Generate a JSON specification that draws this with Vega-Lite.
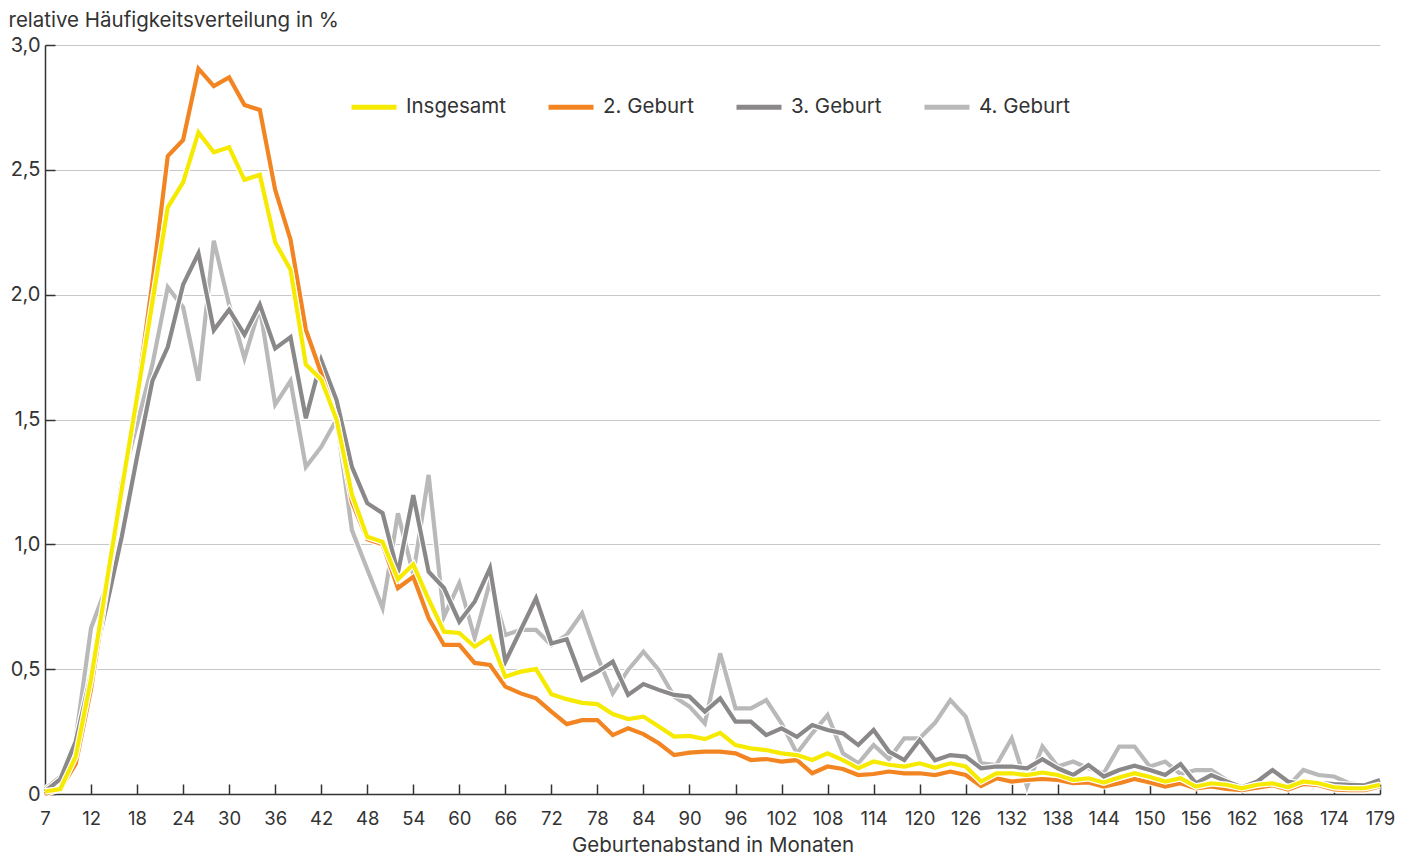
{
  "$schema": "https://vega.github.io/schema/vega-lite/v6.json",
  "autosize": "none",
  "width": 1335,
  "height": 749,
  "padding": {"left": 45, "top": 45, "right": 33, "bottom": 63},
  "background": "white",
  "config": {
    "view": {"stroke": null},
    "font": "Inter",
    "axis": {"labelColor": "#333333", "titleColor": "#333333", "labelFont": "Inter", "titleFont": "Inter"},
    "legend": {"labelFont": "Inter"}
  },
  "data": {"values": [
    {"m":6,"s":"Insgesamt","v":0.01},{"m":8,"s":"Insgesamt","v":0.02},{"m":10,"s":"Insgesamt","v":0.15},{"m":12,"s":"Insgesamt","v":0.46},{"m":14,"s":"Insgesamt","v":0.84},{"m":16,"s":"Insgesamt","v":1.22},{"m":18,"s":"Insgesamt","v":1.59},{"m":20,"s":"Insgesamt","v":1.97},{"m":22,"s":"Insgesamt","v":2.35},{"m":24,"s":"Insgesamt","v":2.45},{"m":26,"s":"Insgesamt","v":2.65},{"m":28,"s":"Insgesamt","v":2.57},{"m":30,"s":"Insgesamt","v":2.59},{"m":32,"s":"Insgesamt","v":2.46},{"m":34,"s":"Insgesamt","v":2.48},{"m":36,"s":"Insgesamt","v":2.21},{"m":38,"s":"Insgesamt","v":2.10},{"m":40,"s":"Insgesamt","v":1.72},{"m":42,"s":"Insgesamt","v":1.66},{"m":44,"s":"Insgesamt","v":1.50},{"m":46,"s":"Insgesamt","v":1.20},{"m":48,"s":"Insgesamt","v":1.03},{"m":50,"s":"Insgesamt","v":1.01},{"m":52,"s":"Insgesamt","v":0.86},{"m":54,"s":"Insgesamt","v":0.92},{"m":56,"s":"Insgesamt","v":0.78},{"m":58,"s":"Insgesamt","v":0.65},{"m":60,"s":"Insgesamt","v":0.645},{"m":62,"s":"Insgesamt","v":0.59},{"m":64,"s":"Insgesamt","v":0.63},{"m":66,"s":"Insgesamt","v":0.47},{"m":68,"s":"Insgesamt","v":0.49},{"m":70,"s":"Insgesamt","v":0.50},{"m":72,"s":"Insgesamt","v":0.40},{"m":74,"s":"Insgesamt","v":0.38},{"m":76,"s":"Insgesamt","v":0.365},{"m":78,"s":"Insgesamt","v":0.36},{"m":80,"s":"Insgesamt","v":0.32},{"m":82,"s":"Insgesamt","v":0.30},{"m":84,"s":"Insgesamt","v":0.31},{"m":86,"s":"Insgesamt","v":0.27},{"m":88,"s":"Insgesamt","v":0.23},{"m":90,"s":"Insgesamt","v":0.233},{"m":92,"s":"Insgesamt","v":0.22},{"m":94,"s":"Insgesamt","v":0.245},{"m":96,"s":"Insgesamt","v":0.196},{"m":98,"s":"Insgesamt","v":0.183},{"m":100,"s":"Insgesamt","v":0.176},{"m":102,"s":"Insgesamt","v":0.163},{"m":104,"s":"Insgesamt","v":0.156},{"m":106,"s":"Insgesamt","v":0.136},{"m":108,"s":"Insgesamt","v":0.163},{"m":110,"s":"Insgesamt","v":0.136},{"m":112,"s":"Insgesamt","v":0.103},{"m":114,"s":"Insgesamt","v":0.13},{"m":116,"s":"Insgesamt","v":0.117},{"m":118,"s":"Insgesamt","v":0.11},{"m":120,"s":"Insgesamt","v":0.123},{"m":122,"s":"Insgesamt","v":0.105},{"m":124,"s":"Insgesamt","v":0.123},{"m":126,"s":"Insgesamt","v":0.11},{"m":128,"s":"Insgesamt","v":0.05},{"m":130,"s":"Insgesamt","v":0.083},{"m":132,"s":"Insgesamt","v":0.083},{"m":134,"s":"Insgesamt","v":0.076},{"m":136,"s":"Insgesamt","v":0.086},{"m":138,"s":"Insgesamt","v":0.076},{"m":140,"s":"Insgesamt","v":0.056},{"m":142,"s":"Insgesamt","v":0.063},{"m":144,"s":"Insgesamt","v":0.046},{"m":146,"s":"Insgesamt","v":0.066},{"m":148,"s":"Insgesamt","v":0.083},{"m":150,"s":"Insgesamt","v":0.068},{"m":152,"s":"Insgesamt","v":0.05},{"m":154,"s":"Insgesamt","v":0.063},{"m":156,"s":"Insgesamt","v":0.03},{"m":158,"s":"Insgesamt","v":0.043},{"m":160,"s":"Insgesamt","v":0.037},{"m":162,"s":"Insgesamt","v":0.023},{"m":164,"s":"Insgesamt","v":0.037},{"m":166,"s":"Insgesamt","v":0.043},{"m":168,"s":"Insgesamt","v":0.027},{"m":170,"s":"Insgesamt","v":0.05},{"m":172,"s":"Insgesamt","v":0.043},{"m":174,"s":"Insgesamt","v":0.027},{"m":176,"s":"Insgesamt","v":0.023},{"m":178,"s":"Insgesamt","v":0.023},{"m":180,"s":"Insgesamt","v":0.037},

    {"m":6,"s":"2. Geburt","v":0.0},{"m":8,"s":"2. Geburt","v":0.02},{"m":10,"s":"2. Geburt","v":0.12},{"m":12,"s":"2. Geburt","v":0.42},{"m":14,"s":"2. Geburt","v":0.82},{"m":16,"s":"2. Geburt","v":1.2},{"m":18,"s":"2. Geburt","v":1.6},{"m":20,"s":"2. Geburt","v":2.05},{"m":22,"s":"2. Geburt","v":2.555},{"m":24,"s":"2. Geburt","v":2.62},{"m":26,"s":"2. Geburt","v":2.905},{"m":28,"s":"2. Geburt","v":2.835},{"m":30,"s":"2. Geburt","v":2.87},{"m":32,"s":"2. Geburt","v":2.76},{"m":34,"s":"2. Geburt","v":2.74},{"m":36,"s":"2. Geburt","v":2.42},{"m":38,"s":"2. Geburt","v":2.22},{"m":40,"s":"2. Geburt","v":1.86},{"m":42,"s":"2. Geburt","v":1.685},{"m":44,"s":"2. Geburt","v":1.5},{"m":46,"s":"2. Geburt","v":1.17},{"m":48,"s":"2. Geburt","v":1.02},{"m":50,"s":"2. Geburt","v":1.0},{"m":52,"s":"2. Geburt","v":0.825},{"m":54,"s":"2. Geburt","v":0.87},{"m":56,"s":"2. Geburt","v":0.705},{"m":58,"s":"2. Geburt","v":0.597},{"m":60,"s":"2. Geburt","v":0.597},{"m":62,"s":"2. Geburt","v":0.525},{"m":64,"s":"2. Geburt","v":0.517},{"m":66,"s":"2. Geburt","v":0.43},{"m":68,"s":"2. Geburt","v":0.403},{"m":70,"s":"2. Geburt","v":0.383},{"m":72,"s":"2. Geburt","v":0.33},{"m":74,"s":"2. Geburt","v":0.28},{"m":76,"s":"2. Geburt","v":0.296},{"m":78,"s":"2. Geburt","v":0.296},{"m":80,"s":"2. Geburt","v":0.236},{"m":82,"s":"2. Geburt","v":0.263},{"m":84,"s":"2. Geburt","v":0.24},{"m":86,"s":"2. Geburt","v":0.203},{"m":88,"s":"2. Geburt","v":0.156},{"m":90,"s":"2. Geburt","v":0.166},{"m":92,"s":"2. Geburt","v":0.17},{"m":94,"s":"2. Geburt","v":0.17},{"m":96,"s":"2. Geburt","v":0.163},{"m":98,"s":"2. Geburt","v":0.136},{"m":100,"s":"2. Geburt","v":0.14},{"m":102,"s":"2. Geburt","v":0.13},{"m":104,"s":"2. Geburt","v":0.136},{"m":106,"s":"2. Geburt","v":0.083},{"m":108,"s":"2. Geburt","v":0.11},{"m":110,"s":"2. Geburt","v":0.1},{"m":112,"s":"2. Geburt","v":0.076},{"m":114,"s":"2. Geburt","v":0.08},{"m":116,"s":"2. Geburt","v":0.09},{"m":118,"s":"2. Geburt","v":0.083},{"m":120,"s":"2. Geburt","v":0.083},{"m":122,"s":"2. Geburt","v":0.076},{"m":124,"s":"2. Geburt","v":0.09},{"m":126,"s":"2. Geburt","v":0.076},{"m":128,"s":"2. Geburt","v":0.032},{"m":130,"s":"2. Geburt","v":0.063},{"m":132,"s":"2. Geburt","v":0.05},{"m":134,"s":"2. Geburt","v":0.056},{"m":136,"s":"2. Geburt","v":0.06},{"m":138,"s":"2. Geburt","v":0.056},{"m":140,"s":"2. Geburt","v":0.043},{"m":142,"s":"2. Geburt","v":0.046},{"m":144,"s":"2. Geburt","v":0.03},{"m":146,"s":"2. Geburt","v":0.043},{"m":148,"s":"2. Geburt","v":0.06},{"m":150,"s":"2. Geburt","v":0.046},{"m":152,"s":"2. Geburt","v":0.03},{"m":154,"s":"2. Geburt","v":0.043},{"m":156,"s":"2. Geburt","v":0.023},{"m":158,"s":"2. Geburt","v":0.03},{"m":160,"s":"2. Geburt","v":0.02},{"m":162,"s":"2. Geburt","v":0.015},{"m":164,"s":"2. Geburt","v":0.025},{"m":166,"s":"2. Geburt","v":0.035},{"m":168,"s":"2. Geburt","v":0.018},{"m":170,"s":"2. Geburt","v":0.04},{"m":172,"s":"2. Geburt","v":0.035},{"m":174,"s":"2. Geburt","v":0.018},{"m":176,"s":"2. Geburt","v":0.015},{"m":178,"s":"2. Geburt","v":0.015},{"m":180,"s":"2. Geburt","v":0.03},

    {"m":6,"s":"3. Geburt","v":0.01},{"m":8,"s":"3. Geburt","v":0.06},{"m":10,"s":"3. Geburt","v":0.21},{"m":12,"s":"3. Geburt","v":0.48},{"m":14,"s":"3. Geburt","v":0.75},{"m":16,"s":"3. Geburt","v":1.03},{"m":18,"s":"3. Geburt","v":1.35},{"m":20,"s":"3. Geburt","v":1.655},{"m":22,"s":"3. Geburt","v":1.79},{"m":24,"s":"3. Geburt","v":2.04},{"m":26,"s":"3. Geburt","v":2.166},{"m":28,"s":"3. Geburt","v":1.858},{"m":30,"s":"3. Geburt","v":1.94},{"m":32,"s":"3. Geburt","v":1.84},{"m":34,"s":"3. Geburt","v":1.96},{"m":36,"s":"3. Geburt","v":1.785},{"m":38,"s":"3. Geburt","v":1.83},{"m":40,"s":"3. Geburt","v":1.505},{"m":42,"s":"3. Geburt","v":1.738},{"m":44,"s":"3. Geburt","v":1.578},{"m":46,"s":"3. Geburt","v":1.31},{"m":48,"s":"3. Geburt","v":1.165},{"m":50,"s":"3. Geburt","v":1.125},{"m":52,"s":"3. Geburt","v":0.885},{"m":54,"s":"3. Geburt","v":1.197},{"m":56,"s":"3. Geburt","v":0.89},{"m":58,"s":"3. Geburt","v":0.825},{"m":60,"s":"3. Geburt","v":0.69},{"m":62,"s":"3. Geburt","v":0.77},{"m":64,"s":"3. Geburt","v":0.905},{"m":66,"s":"3. Geburt","v":0.53},{"m":68,"s":"3. Geburt","v":0.657},{"m":70,"s":"3. Geburt","v":0.784},{"m":72,"s":"3. Geburt","v":0.603},{"m":74,"s":"3. Geburt","v":0.62},{"m":76,"s":"3. Geburt","v":0.457},{"m":78,"s":"3. Geburt","v":0.49},{"m":80,"s":"3. Geburt","v":0.53},{"m":82,"s":"3. Geburt","v":0.397},{"m":84,"s":"3. Geburt","v":0.44},{"m":86,"s":"3. Geburt","v":0.417},{"m":88,"s":"3. Geburt","v":0.397},{"m":90,"s":"3. Geburt","v":0.39},{"m":92,"s":"3. Geburt","v":0.33},{"m":94,"s":"3. Geburt","v":0.383},{"m":96,"s":"3. Geburt","v":0.29},{"m":98,"s":"3. Geburt","v":0.29},{"m":100,"s":"3. Geburt","v":0.236},{"m":102,"s":"3. Geburt","v":0.263},{"m":104,"s":"3. Geburt","v":0.229},{"m":106,"s":"3. Geburt","v":0.276},{"m":108,"s":"3. Geburt","v":0.256},{"m":110,"s":"3. Geburt","v":0.243},{"m":112,"s":"3. Geburt","v":0.196},{"m":114,"s":"3. Geburt","v":0.256},{"m":116,"s":"3. Geburt","v":0.17},{"m":118,"s":"3. Geburt","v":0.136},{"m":120,"s":"3. Geburt","v":0.216},{"m":122,"s":"3. Geburt","v":0.135},{"m":124,"s":"3. Geburt","v":0.156},{"m":126,"s":"3. Geburt","v":0.15},{"m":128,"s":"3. Geburt","v":0.103},{"m":130,"s":"3. Geburt","v":0.11},{"m":132,"s":"3. Geburt","v":0.11},{"m":134,"s":"3. Geburt","v":0.103},{"m":136,"s":"3. Geburt","v":0.139},{"m":138,"s":"3. Geburt","v":0.103},{"m":140,"s":"3. Geburt","v":0.076},{"m":142,"s":"3. Geburt","v":0.116},{"m":144,"s":"3. Geburt","v":0.07},{"m":146,"s":"3. Geburt","v":0.096},{"m":148,"s":"3. Geburt","v":0.113},{"m":150,"s":"3. Geburt","v":0.096},{"m":152,"s":"3. Geburt","v":0.076},{"m":154,"s":"3. Geburt","v":0.12},{"m":156,"s":"3. Geburt","v":0.043},{"m":158,"s":"3. Geburt","v":0.076},{"m":160,"s":"3. Geburt","v":0.05},{"m":162,"s":"3. Geburt","v":0.027},{"m":164,"s":"3. Geburt","v":0.05},{"m":166,"s":"3. Geburt","v":0.096},{"m":168,"s":"3. Geburt","v":0.05},{"m":170,"s":"3. Geburt","v":0.04},{"m":172,"s":"3. Geburt","v":0.045},{"m":174,"s":"3. Geburt","v":0.04},{"m":176,"s":"3. Geburt","v":0.037},{"m":178,"s":"3. Geburt","v":0.035},{"m":180,"s":"3. Geburt","v":0.056},

    {"m":6,"s":"4. Geburt","v":0.02},{"m":8,"s":"4. Geburt","v":0.07},{"m":10,"s":"4. Geburt","v":0.22},{"m":12,"s":"4. Geburt","v":0.665},{"m":14,"s":"4. Geburt","v":0.83},{"m":16,"s":"4. Geburt","v":1.25},{"m":18,"s":"4. Geburt","v":1.48},{"m":20,"s":"4. Geburt","v":1.72},{"m":22,"s":"4. Geburt","v":2.03},{"m":24,"s":"4. Geburt","v":1.95},{"m":26,"s":"4. Geburt","v":1.655},{"m":28,"s":"4. Geburt","v":2.216},{"m":30,"s":"4. Geburt","v":1.96},{"m":32,"s":"4. Geburt","v":1.745},{"m":34,"s":"4. Geburt","v":1.95},{"m":36,"s":"4. Geburt","v":1.56},{"m":38,"s":"4. Geburt","v":1.655},{"m":40,"s":"4. Geburt","v":1.31},{"m":42,"s":"4. Geburt","v":1.39},{"m":44,"s":"4. Geburt","v":1.5},{"m":46,"s":"4. Geburt","v":1.057},{"m":48,"s":"4. Geburt","v":0.9},{"m":50,"s":"4. Geburt","v":0.745},{"m":52,"s":"4. Geburt","v":1.124},{"m":54,"s":"4. Geburt","v":0.88},{"m":56,"s":"4. Geburt","v":1.278},{"m":58,"s":"4. Geburt","v":0.71},{"m":60,"s":"4. Geburt","v":0.845},{"m":62,"s":"4. Geburt","v":0.625},{"m":64,"s":"4. Geburt","v":0.85},{"m":66,"s":"4. Geburt","v":0.637},{"m":68,"s":"4. Geburt","v":0.657},{"m":70,"s":"4. Geburt","v":0.657},{"m":72,"s":"4. Geburt","v":0.597},{"m":74,"s":"4. Geburt","v":0.637},{"m":76,"s":"4. Geburt","v":0.724},{"m":78,"s":"4. Geburt","v":0.55},{"m":80,"s":"4. Geburt","v":0.403},{"m":82,"s":"4. Geburt","v":0.497},{"m":84,"s":"4. Geburt","v":0.57},{"m":86,"s":"4. Geburt","v":0.497},{"m":88,"s":"4. Geburt","v":0.39},{"m":90,"s":"4. Geburt","v":0.35},{"m":92,"s":"4. Geburt","v":0.283},{"m":94,"s":"4. Geburt","v":0.563},{"m":96,"s":"4. Geburt","v":0.343},{"m":98,"s":"4. Geburt","v":0.343},{"m":100,"s":"4. Geburt","v":0.376},{"m":102,"s":"4. Geburt","v":0.283},{"m":104,"s":"4. Geburt","v":0.163},{"m":106,"s":"4. Geburt","v":0.243},{"m":108,"s":"4. Geburt","v":0.316},{"m":110,"s":"4. Geburt","v":0.163},{"m":112,"s":"4. Geburt","v":0.123},{"m":114,"s":"4. Geburt","v":0.196},{"m":116,"s":"4. Geburt","v":0.14},{"m":118,"s":"4. Geburt","v":0.223},{"m":120,"s":"4. Geburt","v":0.223},{"m":122,"s":"4. Geburt","v":0.285},{"m":124,"s":"4. Geburt","v":0.376},{"m":126,"s":"4. Geburt","v":0.31},{"m":128,"s":"4. Geburt","v":0.123},{"m":130,"s":"4. Geburt","v":0.116},{"m":132,"s":"4. Geburt","v":0.223},{"m":134,"s":"4. Geburt","v":0.03},{"m":136,"s":"4. Geburt","v":0.19},{"m":138,"s":"4. Geburt","v":0.11},{"m":140,"s":"4. Geburt","v":0.13},{"m":142,"s":"4. Geburt","v":0.103},{"m":144,"s":"4. Geburt","v":0.083},{"m":146,"s":"4. Geburt","v":0.19},{"m":148,"s":"4. Geburt","v":0.19},{"m":150,"s":"4. Geburt","v":0.11},{"m":152,"s":"4. Geburt","v":0.13},{"m":154,"s":"4. Geburt","v":0.08},{"m":156,"s":"4. Geburt","v":0.096},{"m":158,"s":"4. Geburt","v":0.096},{"m":160,"s":"4. Geburt","v":0.056},{"m":162,"s":"4. Geburt","v":0.024},{"m":164,"s":"4. Geburt","v":0.03},{"m":166,"s":"4. Geburt","v":0.03},{"m":168,"s":"4. Geburt","v":0.03},{"m":170,"s":"4. Geburt","v":0.096},{"m":172,"s":"4. Geburt","v":0.076},{"m":174,"s":"4. Geburt","v":0.07},{"m":176,"s":"4. Geburt","v":0.043},{"m":178,"s":"4. Geburt","v":0.037},{"m":180,"s":"4. Geburt","v":0.05}
  ]},
  "encoding": {
    "x": {
      "field": "m", "type": "quantitative",
      "scale": {"domain": [6, 180], "nice": false, "zero": false},
      "axis": {
        "title": "Geburtenabstand in Monaten",
        "values": [6,12,18,24,30,36,42,48,54,60,66,72,78,84,90,96,102,108,114,120,126,132,138,144,150,156,162,168,174,180],
        "labelExpr": "datum.value == 6 ? '7' : (datum.value == 180 ? '179' : datum.label)",
        "grid": false,
        "domainColor": "#333333", "domainWidth": 1.5,
        "tickColor": "#333333", "tickWidth": 1.5, "tickSize": -10,
        "labelFontSize": 18.5, "labelPadding": 25, "labelFlush": false,
        "titleFontSize": 20.5, "titleFontWeight": "normal", "titlePadding": 8
      }
    },
    "y": {
      "field": "v", "type": "quantitative",
      "scale": {"domain": [0, 3], "nice": false},
      "axis": {
        "title": "relative Häufigkeitsverteilung in %",
        "values": [0, 0.5, 1, 1.5, 2, 2.5, 3],
        "labelExpr": "datum.value == 0 ? '0' : replace(format(datum.value, '.1f'), '.', ',')",
        "grid": true, "gridColor": "#c8c8c8", "gridWidth": 1,
        "domainColor": "#333333", "domainWidth": 1.5,
        "tickColor": "#333333", "tickWidth": 1.5, "tickSize": -10,
        "labelFontSize": 20, "labelPadding": 15,
        "titleAngle": 0, "titleAlign": "left", "titleBaseline": "alphabetic",
        "titleX": -37, "titleY": -19, "titleFontSize": 20.5, "titleFontWeight": "normal"
      }
    }
  },
  "layer": [
    {"transform": [{"filter": "datum.s == '4. Geburt'"}], "mark": {"type": "line", "color": "white", "strokeWidth": 6.5, "strokeJoin": "miter"}},
    {"transform": [{"filter": "datum.s == '4. Geburt'"}], "mark": {"type": "line", "strokeWidth": 4.2, "strokeJoin": "miter"},
     "encoding": {"color": {"field": "s", "type": "nominal", "scale": {"domain": ["Insgesamt", "2. Geburt", "3. Geburt", "4. Geburt"], "range": ["#F6EA00", "#F28422", "#8B888A", "#B9B9B9"]},
       "legend": {"title": null, "orient": "none", "direction": "horizontal", "columns": 4, "legendX": 304, "legendY": 37, "symbolType": "stroke", "symbolSize": 2025, "symbolStrokeWidth": 5, "labelFontSize": 20.5, "labelColor": "#333333", "labelOffset": 7, "columnPadding": 32}}}},
    {"transform": [{"filter": "datum.s == '3. Geburt'"}], "mark": {"type": "line", "color": "white", "strokeWidth": 6.5, "strokeJoin": "miter"}},
    {"transform": [{"filter": "datum.s == '3. Geburt'"}], "mark": {"type": "line", "strokeWidth": 4.2, "strokeJoin": "miter"}, "encoding": {"color": {"field": "s", "type": "nominal"}}},
    {"transform": [{"filter": "datum.s == '2. Geburt'"}], "mark": {"type": "line", "color": "white", "strokeWidth": 6.5, "strokeJoin": "miter"}},
    {"transform": [{"filter": "datum.s == '2. Geburt'"}], "mark": {"type": "line", "strokeWidth": 4.2, "strokeJoin": "miter"}, "encoding": {"color": {"field": "s", "type": "nominal"}}},
    {"transform": [{"filter": "datum.s == 'Insgesamt'"}], "mark": {"type": "line", "color": "white", "strokeWidth": 6.5, "strokeJoin": "miter"}},
    {"transform": [{"filter": "datum.s == 'Insgesamt'"}], "mark": {"type": "line", "strokeWidth": 4.2, "strokeJoin": "miter"}, "encoding": {"color": {"field": "s", "type": "nominal"}}}
  ]
}
